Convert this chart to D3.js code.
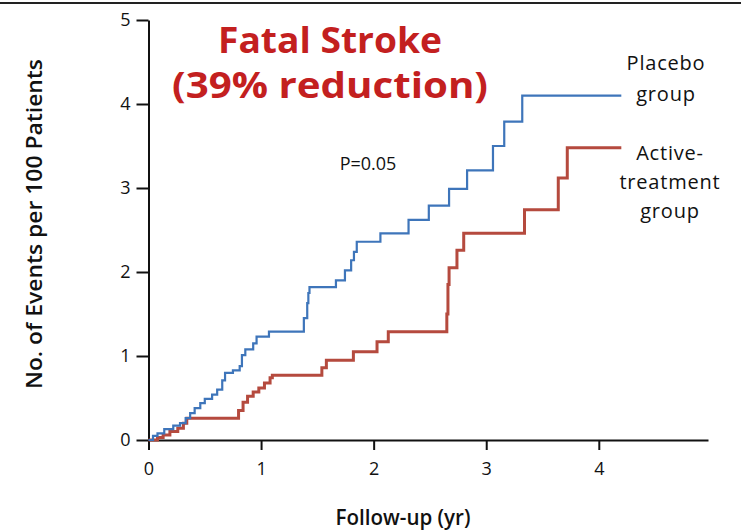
<!DOCTYPE html>
<html>
<head>
<meta charset="utf-8">
<script src="https://cdn.jsdelivr.net/npm/d3@7"></script>
<style>
  html, body { margin: 0; padding: 0; background: #fff; }
  svg { display: block; }
  text { font-family: "Open Sans", "DejaVu Sans", sans-serif; }
</style>
</head>
<body>
<svg id="chart" width="741" height="530"></svg>
<script>
// Cumulative fatal-stroke events per 100 patients, step changes [year, value]
const placeboTimes  = [0, 0.04, 0.08, 0.14, 0.22, 0.28, 0.33, 0.37, 0.41, 0.46, 0.50, 0.565, 0.61, 0.655, 0.68, 0.75, 0.81, 0.83, 0.86, 0.93, 0.96, 1.07, 1.38, 1.41, 1.42, 1.43, 1.665, 1.745, 1.80, 1.825, 1.85, 2.06, 2.31, 2.49, 2.67, 2.83, 3.06, 3.16, 3.32, 4.2];
const placeboValues = [0, 0.05, 0.08, 0.13, 0.17, 0.20, 0.26, 0.32, 0.38, 0.44, 0.49, 0.54, 0.60, 0.71, 0.80, 0.83, 0.88, 1.01, 1.08, 1.15, 1.23, 1.29, 1.45, 1.63, 1.75, 1.82, 1.90, 2.02, 2.14, 2.24, 2.36, 2.46, 2.62, 2.79, 2.99, 3.21, 3.50, 3.79, 4.10, 4.10];

const activeTimes  = [0, 0.08, 0.13, 0.19, 0.26, 0.31, 0.34, 0.80, 0.84, 0.88, 0.93, 0.98, 1.03, 1.08, 1.10, 1.54, 1.58, 1.82, 2.03, 2.13, 2.65, 2.66, 2.67, 2.74, 2.80, 3.34, 3.64, 3.72, 4.2];
const activeValues = [0, 0.03, 0.06, 0.10, 0.14, 0.20, 0.26, 0.35, 0.45, 0.52, 0.57, 0.62, 0.68, 0.74, 0.77, 0.86, 0.95, 1.05, 1.17, 1.29, 1.50, 1.85, 2.05, 2.26, 2.46, 2.74, 3.12, 3.48, 3.48];

const xTicks = [0, 1, 2, 3, 4];
const yTicks = [0, 1, 2, 3, 4, 5];

const svg = d3.select("#chart");

// Rule along the top edge of the figure
svg.append("line")
  .attr("x1", 0).attr("x2", 741).attr("y1", 3).attr("y2", 3)
  .attr("stroke", "#222").attr("stroke-width", 2);

const x = d3.scaleLinear().domain([0, 4.97]).range([148.5, 708]);
const y = d3.scaleLinear().domain([0, 5]).range([440, 20]);

// Axes
const xAxis = svg.append("g")
  .attr("transform", `translate(0,${y(0)})`)
  .call(d3.axisBottom(x).tickValues(xTicks).tickSize(10).tickSizeOuter(0).tickPadding(12).tickFormat(d3.format("d")));
const yAxis = svg.append("g")
  .attr("transform", `translate(${x(0)},0)`)
  .call(d3.axisLeft(y).tickValues(yTicks).tickSize(12).tickSizeOuter(0).tickPadding(6).tickFormat(d3.format("d")));

[xAxis, yAxis].forEach(g => {
  g.selectAll("path, line").attr("stroke", "#111").attr("stroke-width", 2);
  g.selectAll("text")
    .attr("fill", "#111")
    .style("font-family", "'Open Sans', sans-serif")
    .style("font-size", "18px");
});

// Step curves
const line = d3.line()
  .x(d => x(d[0]))
  .y(d => y(d[1]))
  .curve(d3.curveStepAfter);

const placebo = placeboTimes.map((t, i) => [t, placeboValues[i]]);
const active = activeTimes.map((t, i) => [t, activeValues[i]]);

svg.append("path")
  .datum(active)
  .attr("d", line)
  .attr("fill", "none")
  .attr("stroke", "#b54a3e")
  .attr("stroke-width", 3)
  .attr("stroke-linejoin", "miter");

svg.append("path")
  .datum(placebo)
  .attr("d", line)
  .attr("fill", "none")
  .attr("stroke", "#3e75ba")
  .attr("stroke-width", 2.2)
  .attr("stroke-linejoin", "miter");

// Title
const title = svg.append("g")
  .attr("fill", "#c3201f")
  .style("font-family", "'DejaVu Sans Condensed', 'DejaVu Sans', sans-serif")
  .style("font-weight", "bold")
  .style("font-size", "35px")
  .attr("text-anchor", "middle");
title.append("text").attr("x", 330).attr("y", 53)
  .attr("textLength", 224).attr("lengthAdjust", "spacingAndGlyphs")
  .text("Fatal Stroke");
title.append("text").attr("x", 330).attr("y", 98)
  .attr("textLength", 316).attr("lengthAdjust", "spacingAndGlyphs")
  .text("(39% reduction)");

// P value
svg.append("text")
  .attr("x", 368).attr("y", 170)
  .attr("text-anchor", "middle")
  .attr("fill", "#111")
  .style("font-size", "18px")
  .text("P=0.05");

// Series labels
const labels = svg.append("g")
  .attr("fill", "#111")
  .attr("text-anchor", "middle")
  .style("font-size", "20px")
  .style("letter-spacing", "0.8px");
labels.append("text").attr("x", 666).attr("y", 70).text("Placebo");
labels.append("text").attr("x", 666).attr("y", 101).text("group");
labels.append("text").attr("x", 670).attr("y", 160).text("Active-");
labels.append("text").attr("x", 670).attr("y", 189).text("treatment");
labels.append("text").attr("x", 670).attr("y", 218).text("group");

// Axis titles
svg.append("text")
  .attr("transform", "translate(42,224) rotate(-90)")
  .attr("text-anchor", "middle")
  .attr("fill", "#111")
  .style("font-size", "22px")
  .style("font-weight", "600")
  .attr("textLength", 330).attr("lengthAdjust", "spacingAndGlyphs")
  .text("No. of Events per 100 Patients");

svg.append("text")
  .attr("x", 403).attr("y", 525)
  .attr("text-anchor", "middle")
  .attr("fill", "#111")
  .style("font-size", "22px")
  .style("font-weight", "600")
  .attr("textLength", 135).attr("lengthAdjust", "spacingAndGlyphs")
  .text("Follow-up (yr)");
</script>
</body>
</html>
